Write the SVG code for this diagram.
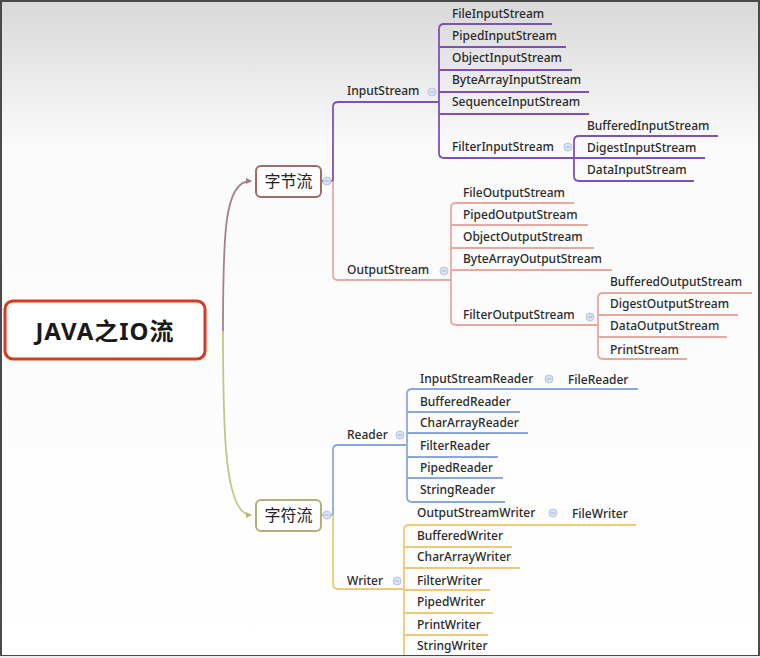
<svg xmlns="http://www.w3.org/2000/svg" width="760" height="658" viewBox="0 0 760 658">
<defs>
<linearGradient id="bg" x1="0" y1="0" x2="0" y2="1">
<stop offset="0" stop-color="#d8d8d8"/>
<stop offset="0.22" stop-color="#fafafa"/>
<stop offset="1" stop-color="#ffffff"/>
</linearGradient>
<marker id="arrB" viewBox="0 0 6 6" refX="5" refY="3" markerWidth="6" markerHeight="6" orient="auto" markerUnits="userSpaceOnUse">
<path d="M0,0 L6,3 L0,6 z" fill="#a07a82"/>
</marker>
<marker id="arrO" viewBox="0 0 6 6" refX="5" refY="3" markerWidth="6" markerHeight="6" orient="auto" markerUnits="userSpaceOnUse">
<path d="M0,0 L6,3 L0,6 z" fill="#b8b878"/>
</marker>
<style>
.t{font-family:"Noto Sans","Open Sans","Liberation Sans",sans-serif;font-size:12px;fill:#2a2a2a;font-weight:500}
.cn{font-family:"Noto Sans CJK SC","Noto Sans",sans-serif;font-size:16px;fill:#222;text-anchor:middle}
.root{font-family:"Noto Sans","Noto Sans CJK SC",sans-serif;font-size:24px;font-weight:bold;fill:#1a1a1a;text-anchor:middle;letter-spacing:1px}
.ln{fill:none;stroke-width:1.8;stroke-linejoin:round}
.pu{stroke:#7d52b5}
.sa{stroke:#e8a8a0}
.bl{stroke:#8aa8e0}
.or{stroke:#f0c878}
.c{fill:#dbe3f2;stroke:#b4c4e4;stroke-width:1}
.cm{stroke:#9fb2d8;stroke-width:1}
</style>
</defs>
<rect x="0" y="0" width="760" height="658" fill="url(#bg)"/>

<g id="connectors">
<path d="M223,331 C223,235 224,181 251,181" fill="none" stroke="#a88088" stroke-width="1.8" marker-end="url(#arrB)"/>
<path d="M223,331 C223,427 224,515 251,515" fill="none" stroke="#c4c488" stroke-width="1.8" marker-end="url(#arrO)"/>

<path class="ln pu" d="M321,181 H333 V107 Q333,102 338,102 H439"/>
<path class="ln sa" d="M333,181 V275 Q333,280 338,280 H451"/>
<path class="ln bl" d="M321,515 H333 V450 Q333,445 338,445 H407"/>
<path class="ln or" d="M333,515 V584 Q333,589 338,589 H404"/>

<path class="ln pu" d="M552,24 H444 Q439,24 439,29 V153 Q439,158 444,158 H574"/>
<path class="ln pu" d="M439,47 H566 M439,70 H572 M439,92 H589 M439,114 H589"/>
<path class="ln pu" d="M718,136 H579 Q574,136 574,141 V176 Q574,181 579,181 H694 M574,158 H705"/>

<path class="ln sa" d="M574,203 H456 Q451,203 451,208 V320 Q451,325 456,325 H598"/>
<path class="ln sa" d="M451,225 H588 M451,248 H594 M451,270 H612"/>
<path class="ln sa" d="M752,293 H603 Q598,293 598,298 V354 Q598,359 603,359 H687 M598,315 H738 M598,337 H727"/>

<path class="ln bl" d="M638,389 H412 Q407,389 407,394 V497 Q407,502 412,502 H505"/>
<path class="ln bl" d="M407,412 H520 M407,433 H528 M407,457 H498 M407,478 H503"/>

<path class="ln or" d="M636,525 H409 Q404,525 404,530 V662"/>
<path class="ln or" d="M404,547 H512 M404,568 H520 M404,590 H490 M404,613 H493 M404,635 H488 M404,657 H496"/>
</g>

<g id="root">
<rect x="5" y="301" width="200" height="58" rx="8" fill="#ffffff" stroke="#d63a20" stroke-width="3"/>
<text class="root" x="105" y="340">JAVA之IO流</text>
</g>

<g id="zijieliu">
<rect x="256" y="166" width="65" height="31" rx="5" fill="#ffffff" stroke="#9c6c6c" stroke-width="2"/>
<text class="cn" x="288.5" y="187">字节流</text>
<circle class="c" cx="327" cy="181" r="4"/><path class="cm" d="M325,181 H329"/>
</g>
<g id="zifuliu">
<rect x="256" y="500" width="65" height="31" rx="5" fill="#ffffff" stroke="#b0b078" stroke-width="2"/>
<text class="cn" x="288.5" y="521">字符流</text>
<circle class="c" cx="327" cy="515" r="4"/><path class="cm" d="M325,515 H329"/>
</g>

<g id="InputStream"><text class="t" x="347" y="95">InputStream</text><circle class="c" cx="432" cy="92" r="4"/><path class="cm" d="M430,92 H434"/></g>
<g id="FileInputStream"><text class="t" x="452" y="18">FileInputStream</text></g>
<g id="PipedInputStream"><text class="t" x="452" y="40">PipedInputStream</text></g>
<g id="ObjectInputStream"><text class="t" x="452" y="62">ObjectInputStream</text></g>
<g id="ByteArrayInputStream"><text class="t" x="452" y="84">ByteArrayInputStream</text></g>
<g id="SequenceInputStream"><text class="t" x="452" y="106">SequenceInputStream</text></g>
<g id="FilterInputStream"><text class="t" x="452" y="151">FilterInputStream</text><circle class="c" cx="568" cy="147" r="4"/><path class="cm" d="M566,147 H570"/></g>
<g id="BufferedInputStream"><text class="t" x="587" y="130">BufferedInputStream</text></g>
<g id="DigestInputStream"><text class="t" x="587" y="152">DigestInputStream</text></g>
<g id="DataInputStream"><text class="t" x="587" y="174">DataInputStream</text></g>

<g id="OutputStream"><text class="t" x="347" y="274">OutputStream</text><circle class="c" cx="444" cy="271" r="4"/><path class="cm" d="M442,271 H446"/></g>
<g id="FileOutputStream"><text class="t" x="463" y="197">FileOutputStream</text></g>
<g id="PipedOutputStream"><text class="t" x="463" y="219">PipedOutputStream</text></g>
<g id="ObjectOutputStream"><text class="t" x="463" y="241">ObjectOutputStream</text></g>
<g id="ByteArrayOutputStream"><text class="t" x="463" y="263">ByteArrayOutputStream</text></g>
<g id="FilterOutputStream"><text class="t" x="463" y="319">FilterOutputStream</text><circle class="c" cx="590" cy="317" r="4"/><path class="cm" d="M588,317 H592"/></g>
<g id="BufferedOutputStream"><text class="t" x="610" y="286">BufferedOutputStream</text></g>
<g id="DigestOutputStream"><text class="t" x="610" y="308">DigestOutputStream</text></g>
<g id="DataOutputStream"><text class="t" x="610" y="330">DataOutputStream</text></g>
<g id="PrintStream"><text class="t" x="610" y="354">PrintStream</text></g>

<g id="Reader"><text class="t" x="347" y="439">Reader</text><circle class="c" cx="400" cy="435" r="4"/><path class="cm" d="M398,435 H402"/></g>
<g id="InputStreamReader"><text class="t" x="420" y="383">InputStreamReader</text><circle class="c" cx="549" cy="379" r="4"/><path class="cm" d="M547,379 H551"/></g>
<g id="FileReader"><text class="t" x="568" y="384">FileReader</text></g>
<g id="BufferedReader"><text class="t" x="420" y="406">BufferedReader</text></g>
<g id="CharArrayReader"><text class="t" x="420" y="427">CharArrayReader</text></g>
<g id="FilterReader"><text class="t" x="420" y="450">FilterReader</text></g>
<g id="PipedReader"><text class="t" x="420" y="472">PipedReader</text></g>
<g id="StringReader"><text class="t" x="420" y="494">StringReader</text></g>

<g id="Writer"><text class="t" x="347" y="585">Writer</text><circle class="c" cx="397" cy="581" r="4"/><path class="cm" d="M395,581 H399"/></g>
<g id="OutputStreamWriter"><text class="t" x="417" y="517">OutputStreamWriter</text><circle class="c" cx="553" cy="513" r="4"/><path class="cm" d="M551,513 H555"/></g>
<g id="FileWriter"><text class="t" x="572" y="518">FileWriter</text></g>
<g id="BufferedWriter"><text class="t" x="417" y="540">BufferedWriter</text></g>
<g id="CharArrayWriter"><text class="t" x="417" y="561">CharArrayWriter</text></g>
<g id="FilterWriter"><text class="t" x="417" y="585">FilterWriter</text></g>
<g id="PipedWriter"><text class="t" x="417" y="606">PipedWriter</text></g>
<g id="PrintWriter"><text class="t" x="417" y="629">PrintWriter</text></g>
<g id="StringWriter"><text class="t" x="417" y="650">StringWriter</text></g>

<rect x="1" y="1" width="758" height="655" fill="none" stroke="#4a4a4a" stroke-width="2"/>
<rect x="0" y="656" width="760" height="2" fill="#eeeeee"/>
</svg>
